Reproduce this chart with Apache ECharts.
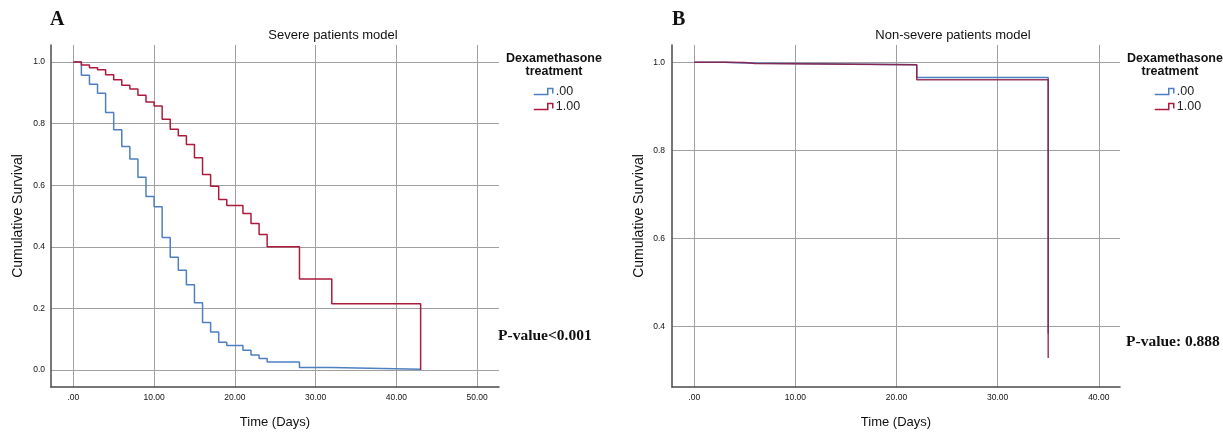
<!DOCTYPE html>
<html>
<head>
<meta charset="utf-8">
<script src="https://cdn.jsdelivr.net/npm/echarts@6/dist/echarts.min.js"></script>
<style>
  html, body { margin: 0; padding: 0; background: #fff; }
  #chart { width: 1223px; height: 434px; }
</style>
</head>
<body>
<div id="chart"></div>
<script>
// panel A: severe patients, days and cumulative survival
var timesA = [0, 1, 2, 3, 4, 5, 6, 7, 8, 9, 10, 11, 12, 13, 14, 15, 16, 17, 18, 19, 21, 22, 23, 24, 28, 32, 43];
var survA0 = [1, 0.957, 0.928, 0.899, 0.836, 0.780, 0.726, 0.685, 0.626, 0.563, 0.530, 0.430, 0.366, 0.324, 0.277, 0.218, 0.154, 0.123, 0.090, 0.079, 0.064, 0.048, 0.037, 0.026, 0.008, 0.002, 0.002];
var survA1 = [1, 0.991, 0.982, 0.975, 0.959, 0.943, 0.925, 0.913, 0.892, 0.870, 0.857, 0.814, 0.782, 0.761, 0.732, 0.689, 0.635, 0.597, 0.554, 0.534, 0.508, 0.476, 0.440, 0.400, 0.295, 0.215, 0];

// panel B: non-severe patients
var timesB0 = [0, 3, 5, 22, 35];
var survB0 = [1, 0.998, 0.994, 0.965, 0.383];
var timesB1 = [0, 3, 5, 6, 22, 35];
var survB1 = [1, 0.999, 0.997, 0.994, 0.960, 0.328];

var xTicksA = [0, 10, 20, 30, 40, 50];
var yTicksA = [0, 0.2, 0.4, 0.6, 0.8, 1.0];
var xTicksB = [0, 10, 20, 30, 40];
var yTicksB = [0.4, 0.6, 0.8, 1.0];

var groups = ['.00', '1.00'];

var BLUE = '#4d7fc1';
var RED = '#ad1a3c';
var SANS = 'Liberation Sans, Arial, sans-serif';
var SERIF = 'Liberation Serif, Times New Roman, serif';

function pairs(xs, ys) {
    var out = [];
    for (var i = 0; i < xs.length; i++) out.push([xs[i], ys[i]]);
    return out;
}

function xAxisCfg(grid, min, max, ticks) {
    return {
        type: 'value', gridIndex: grid, min: min, max: max,
        name: 'Time (Days)', nameLocation: 'middle', nameGap: 29,
        nameTextStyle: { fontFamily: SANS, fontSize: 13, color: '#111' },
        axisLine: { show: true, onZero: false, lineStyle: { color: '#4a4a4a', width: 1.5 } },
        axisTick: { show: false, customValues: ticks },
        axisLabel: {
            customValues: ticks, margin: 6, fontFamily: SANS, fontSize: 8.5, color: '#111',
            formatter: function (v) { return v === 0 ? '.00' : v.toFixed(2); }
        },
        splitLine: { show: true, lineStyle: { color: '#a0a0a0', width: 1 } }
    };
}

function yAxisCfg(grid, min, max, ticks, margin) {
    return {
        type: 'value', gridIndex: grid, min: min, max: max,
        name: 'Cumulative Survival', nameLocation: 'middle', nameGap: 26,
        nameTextStyle: { fontFamily: SANS, fontSize: 14, color: '#111' },
        axisLine: { show: true, onZero: false, lineStyle: { color: '#4a4a4a', width: 1.5 } },
        axisTick: { show: false, customValues: ticks },
        axisLabel: {
            customValues: ticks, margin: margin, fontFamily: SANS, fontSize: 8.5, color: '#111',
            formatter: function (v) { return v.toFixed(1); }
        },
        splitLine: { show: true, lineStyle: { color: '#a0a0a0', width: 1 } }
    };
}

function stepSeries(name, xi, data, color, opacity) {
    return {
        name: name, type: 'line', step: 'end', xAxisIndex: xi, yAxisIndex: xi,
        data: data, showSymbol: false, symbol: 'none', animation: false,
        color: color,
        lineStyle: { color: color, width: 1.5, opacity: opacity }
    };
}

var ICON = 'path://M0,6H14V0H19V5';

function legendCfg(left) {
    return {
        orient: 'vertical', left: left, top: 85, icon: ICON,
        itemWidth: 19, itemHeight: 6, itemGap: 2, padding: 0,
        selectedMode: false,
        textStyle: { fontFamily: SANS, fontSize: 12.5, lineHeight: 13, color: '#222', padding: [0, 0, 0, -2] },
        data: [
            { name: groups[0], itemStyle: { color: 'transparent', borderColor: BLUE, borderWidth: 1.5 } },
            { name: groups[1], itemStyle: { color: 'transparent', borderColor: RED, borderWidth: 1.5 } }
        ]
    };
}

function txt(x, y, s, font, align) {
    return {
        type: 'text', x: x, y: y, silent: true,
        style: { text: s, font: font, fill: '#111', textAlign: align || 'center', textVerticalAlign: 'middle' }
    };
}

var myChart = echarts.init(document.getElementById('chart'), null, { renderer: 'canvas' });

option = {
    backgroundColor: '#fff',
    animation: false,
    grid: [
        { left: 51, top: 45, width: 448, bottom: 43 },
        { left: 672, top: 45, width: 448, bottom: 43 }
    ],
    xAxis: [
        xAxisCfg(0, -2.76, 52.7, xTicksA),
        xAxisCfg(1, -2.2, 42.1, xTicksB)
    ],
    yAxis: [
        yAxisCfg(0, -0.0556, 1.0556, yTicksA, 6),
        yAxisCfg(1, 0.262, 1.039, yTicksB, 7)
    ],
    legend: [legendCfg(533), legendCfg(1154)],
    graphic: [
        txt(50, 20, 'A', 'bold 20px ' + SERIF, 'left'),
        txt(333, 35, 'Severe patients model', '13px ' + SANS),
        txt(554, 59, 'Dexamethasone', 'bold 12.5px ' + SANS),
        txt(554, 71.5, 'treatment', 'bold 12.5px ' + SANS),
        txt(498, 336, 'P-value<0.001', 'bold 15.5px ' + SERIF, 'left'),
        txt(672, 20, 'B', 'bold 20px ' + SERIF, 'left'),
        txt(953, 35, 'Non-severe patients model', '13px ' + SANS),
        txt(1175, 59, 'Dexamethasone', 'bold 12.5px ' + SANS),
        txt(1170, 71.5, 'treatment', 'bold 12.5px ' + SANS),
        txt(1126, 342, 'P-value: 0.888', 'bold 15.5px ' + SERIF, 'left')
    ],
    series: [
        stepSeries(groups[0], 0, pairs(timesA, survA0), BLUE, 1),
        stepSeries(groups[1], 0, pairs(timesA, survA1), RED, 1),
        stepSeries(groups[0], 1, pairs(timesB0, survB0), BLUE, 1),
        stepSeries(groups[1], 1, pairs(timesB1, survB1), '#8e1842', 0.85)
    ]
};

myChart.setOption(option);
</script>
</body>
</html>
